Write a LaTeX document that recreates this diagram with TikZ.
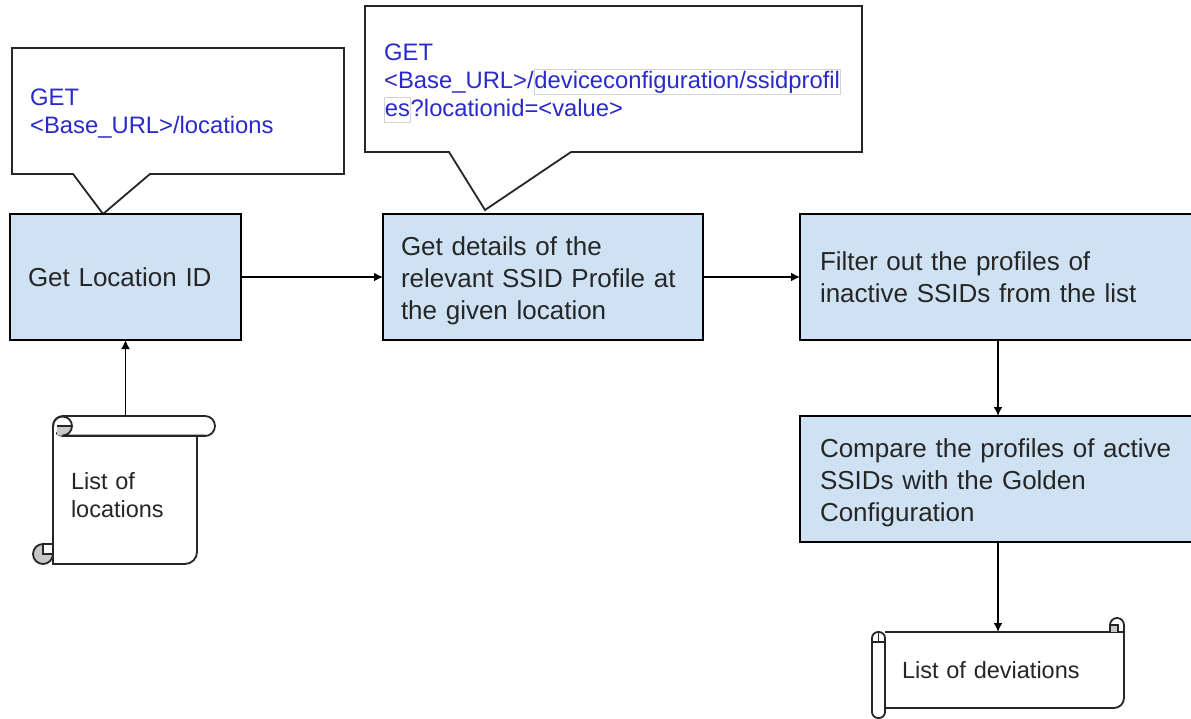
\documentclass[tikz,border=0pt]{standalone}
\usepackage{fontspec}
\setmainfont{Liberation Sans}
\usetikzlibrary{arrows.meta}
\definecolor{boxblue}{HTML}{CFE2F3}
\definecolor{urlblue}{HTML}{2A2ACC}
\definecolor{inktext}{HTML}{262626}
\definecolor{hlgray}{HTML}{D4D4D4}
\definecolor{curlgray}{HTML}{C8C8C8}
\newcommand{\hlbox}[1]{{\setlength\fboxsep{0pt}\setlength\fboxrule{.7pt}\fcolorbox{hlgray}{white}{\rule[-5pt]{0pt}{24pt}#1}}}
\newcommand{\pushdown}[1]{\rule{0pt}{#1}}
\tikzset{
  stepbox/.style={draw=black, line width=1.8pt, fill=boxblue, text=inktext, anchor=north west, align=left, minimum height=126pt, inner xsep=18pt, inner ysep=0pt, outer sep=0pt, font=\fontsize{26}{32}\selectfont},
  urltext/.style={text=urlblue, anchor=north west, align=left, inner sep=0pt, font=\fontsize{23.8}{28}\selectfont},
  filetext/.style={text=inktext, anchor=north west, align=left, inner sep=0pt, outer sep=0pt, font=\fontsize{23.5}{28}\selectfont},
  outline/.style={draw=black!85, line width=1.8pt},
  link/.style={draw=black, line width=1.8pt, -{Latex[length=9pt,width=9pt]}}
}
\begin{document}
\begin{tikzpicture}[x=1pt,y=-1pt]
  \useasboundingbox (0,0) rectangle (1191,719);
  % callouts
  \draw[outline, fill=white] (12,48) -- (344,48) -- (344,174) -- (150,174) -- (103,214) -- (73,174) -- (12,174) -- cycle;
  \draw[outline, fill=white] (365,6) -- (862,6) -- (862,152) -- (571,152) -- (485,210) -- (449,152) -- (365,152) -- cycle;
  \node[urltext] (getlocations) at (30,89) {GET\\<Base\_URL>/locations};
  \node[urltext] (getprofiles) at (384,44) {GET\\<Base\_URL>/\hlbox{deviceconfiguration/ssidprofil}\\\hlbox{es}?locationid=<value>};
  % steps
  \node[stepbox, minimum width=231pt, text width=195pt] (locationid) at (10,214) {Get Location ID};
  \node[stepbox, minimum width=320pt, text width=284pt] (details) at (383,214) {\pushdown{25.5pt}Get details of the\\relevant SSID Profile at\\the given location};
  \node[stepbox, minimum width=396pt, text width=356pt, inner xsep=20pt] (filter) at (800,214) {Filter out the profiles of\\inactive SSIDs from the list};
  \node[stepbox, minimum width=396pt, text width=356pt, inner xsep=20pt] (compare) at (800,416) {\pushdown{25.5pt}Compare the profiles of active\\SSIDs with the Golden\\Configuration};
  % scroll with the locations
  \draw[outline, fill=white] (53,436) -- (53,564) -- (185,564) arc (90:0:12) -- (197,436);
  \draw[outline, fill=white, rounded corners=10pt] (53,436) -- (53,416) -- (215,416) -- (215,436) -- cycle;
  \fill[white] (50,427) rectangle (56,438);
  \fill[curlgray] (57,426) -- (72,426) arc (0:90:9.5) -- (57,435.5) -- cycle;
  \draw[outline] (53,545) -- (53,426) arc (180:450:9.5) -- (205,435.5);
  \draw[outline] (57,426) -- (72,426);
  \draw[outline, fill=curlgray] (43,554) -- (53,554) arc (0:90:10) arc (90:270:10) -- cycle;
  \draw[outline] (43,544) -- (53,544);
  \node[filetext, text width=126pt, minimum height=148pt] (locfile) at (71,416) {\pushdown{27pt}List of\\locations};
  \coordinate (locfiletop) at (125.5,416);
  % scroll with the deviations
  \draw[outline, fill=white] (885,632) -- (1124,632) -- (1124,698) arc (0:90:10) -- (885,708);
  \draw[outline, fill=white, rounded corners=6pt] (872,632) rectangle (885,718);
  \draw[outline] (872,642) -- (885,642);
  \draw[outline] (878.5,632) -- (878.5,642);
  \draw[outline, fill=curlgray] (1110,632) -- (1110,625) -- (1118,625) -- (1118,632);
  \draw[outline] (1110,625) arc (180:360:7) -- (1124,632);
  \node[filetext, text width=222pt, minimum height=76pt, anchor=west] (devfile) at (902,670) {List of deviations};
  % connectors
  \draw[link] (locationid.east) -- (details.west);
  \draw[link] (details.east) -- (filter.west);
  \draw[link] (filter.south) -- (compare.north);
  \draw[link] (compare.south) -- (compare.south |- devfile.north);
  \draw[link] (locfiletop) -- (locationid.south);
\end{tikzpicture}
\end{document}
